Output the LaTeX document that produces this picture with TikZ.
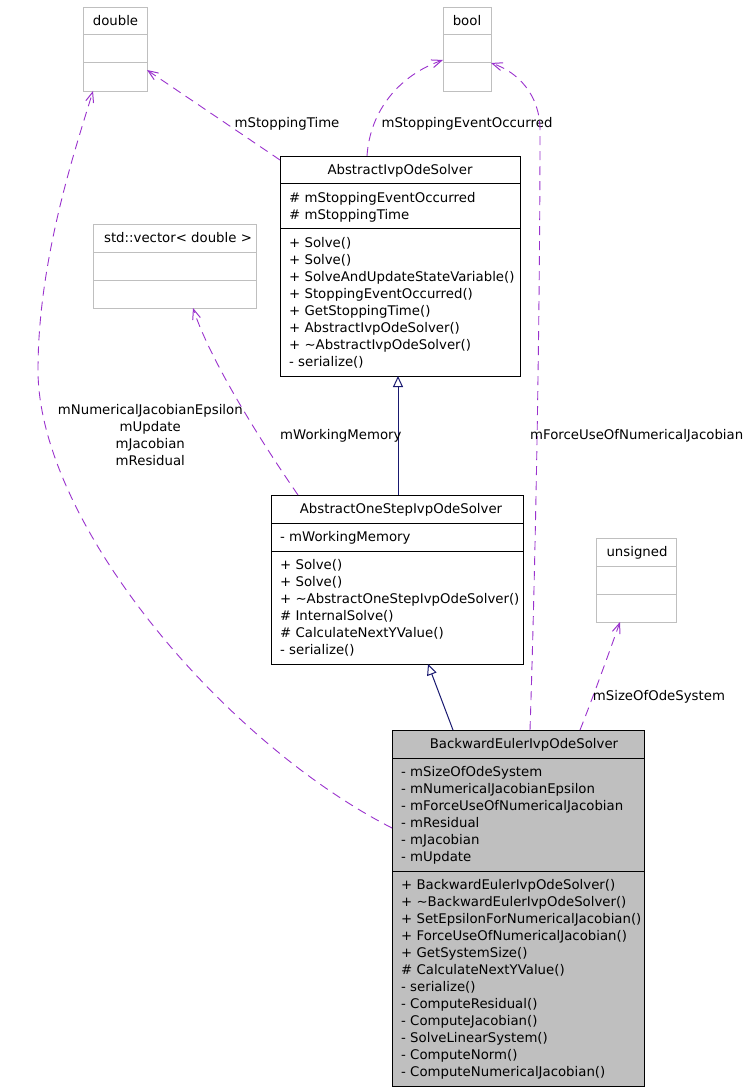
\documentclass[tikz,border=0pt]{standalone}
\usepackage{fontspec}
\setmainfont{DejaVu Sans}
\usetikzlibrary{arrows.meta}
\definecolor{edgepurple}{HTML}{9A32CD}
\definecolor{inhblue}{HTML}{191970}
\definecolor{boxgray}{HTML}{BFBFBF}
\tikzset{
  lbl/.style={font=\fontsize{13.3}{17}\selectfont, inner sep=0pt, text=black},
  ln/.style={lbl, anchor=base west},
  ttl/.style={lbl, anchor=base},
  cls/.style={draw=black, line width=1pt, anchor=north west, inner sep=0pt, fill=white},
  ext/.style={draw=boxgray, line width=1pt, anchor=north west, inner sep=0pt, fill=white},
  divline/.style={line width=1pt},
  assoc/.style={draw=edgepurple, line width=0.9pt, dash pattern=on 9pt off 6pt,
    -{Straight Barb[length=10pt,width=8pt,line width=1pt]}},
  inh/.style={draw=inhblue, line width=1pt,
    -{Triangle[open,length=11pt,width=10pt,fill=white]}},
}
\newcommand\cltext[4]{%
  \foreach \t [count=\i from 0] in {#4} {\node[ln] (#1-\i) at (#2,{#3+17*\i}) {\t};}}
\begin{document}
\begin{tikzpicture}[x=1pt,y=-1pt]
\useasboundingbox (0,0) rectangle (745,1091);

% ---------- double ----------
\node[ext, minimum width=64pt, minimum height=84pt] (dbl) at (83,7) {};
\draw[divline, boxgray] (83,35) -- (147,35) (83,63) -- (147,63);
\node[ttl] (dbl-t) at (115.5,25.7) {double};

% ---------- bool ----------
\node[ext, minimum width=48pt, minimum height=84pt] (bool) at (443,7) {};
\draw[divline, boxgray] (443,35) -- (491,35) (443,63) -- (491,63);
\node[ttl] (bool-t) at (467,25.7) {bool};

% ---------- std::vector ----------
\node[ext, minimum width=163pt, minimum height=84pt] (vec) at (93,224) {};
\draw[divline, boxgray] (93,252) -- (256,252) (93,280) -- (256,280);
\node[ttl] (vec-t) at (178,242.7) {std::vector< double >};

% ---------- unsigned ----------
\node[ext, minimum width=80pt, minimum height=84pt] (uns) at (596,538) {};
\draw[divline, boxgray] (596,566) -- (676,566) (596,594) -- (676,594);
\node[ttl] (uns-t) at (637,556.7) {unsigned};

% ---------- AbstractIvpOdeSolver ----------
\node[cls, minimum width=240pt, minimum height=220pt] (aivp) at (280,156) {};
\draw[divline] (280,184) -- (520,184) (280,229) -- (520,229);
\node[ttl] (aivp-t) at (400,174.7) {AbstractIvpOdeSolver};
\cltext{aivpa}{289}{202.7}{\# mStoppingEventOccurred,\# mStoppingTime}
\cltext{aivpm}{289}{247.7}{+ Solve(),+ Solve(),+ SolveAndUpdateStateVariable(),+ StoppingEventOccurred(),+ GetStoppingTime(),+ AbstractIvpOdeSolver(),+ \textasciitilde AbstractIvpOdeSolver(),- serialize()}

% ---------- AbstractOneStepIvpOdeSolver ----------
\node[cls, minimum width=252pt, minimum height=169pt] (aos) at (271,495) {};
\draw[divline] (271,523) -- (523,523) (271,551) -- (523,551);
\node[ttl] (aos-t) at (401,513.7) {AbstractOneStepIvpOdeSolver};
\cltext{aosa}{280}{541.7}{- mWorkingMemory}
\cltext{aosm}{280}{569.7}{+ Solve(),+ Solve(),+ \textasciitilde AbstractOneStepIvpOdeSolver(),\# InternalSolve(),\# CalculateNextYValue(),- serialize()}

% ---------- BackwardEulerIvpOdeSolver ----------
\node[cls, fill=boxgray, minimum width=252pt, minimum height=356pt] (be) at (392,730) {};
\draw[divline] (392,758) -- (644,758) (392,871) -- (644,871);
\node[ttl] (be-t) at (524,748.7) {BackwardEulerIvpOdeSolver};
\cltext{bea}{401}{776.7}{- mSizeOfOdeSystem,- mNumericalJacobianEpsilon,- mForceUseOfNumericalJacobian,- mResidual,- mJacobian,- mUpdate}
\cltext{bem}{401}{889.7}{+ BackwardEulerIvpOdeSolver(),+ \textasciitilde BackwardEulerIvpOdeSolver(),+ SetEpsilonForNumericalJacobian(),+ ForceUseOfNumericalJacobian(),+ GetSystemSize(),\# CalculateNextYValue(),- serialize(),- ComputeResidual(),- ComputeJacobian(),- SolveLinearSystem(),- ComputeNorm(),- ComputeNumericalJacobian()}

% ---------- connector end points ----------
\coordinate (dbl-r) at (147,70);
\coordinate (dbl-b) at (93,91);
\coordinate (bool-l) at (443,60);
\coordinate (bool-r) at (491,63);
\coordinate (vec-b) at (193,308);
\coordinate (uns-b) at (620,622);
\coordinate (aivp-l) at (280,160);
\coordinate (aivp-tp) at (367,156);
\coordinate (aivp-b) at (398,376);
\coordinate (aos-tl) at (298,495);
\coordinate (aos-tm) at (398,495);
\coordinate (aos-b) at (428,664);
\coordinate (be-tl) at (453,730);
\coordinate (be-tm) at (530,730);
\coordinate (be-tr) at (580,730);
\coordinate (be-l) at (392,828);

% ---------- inheritance ----------
\draw[inh] (aos-tm) -- (aivp-b);
\draw[inh] (be-tl) -- (aos-b);

% ---------- associations ----------
\draw[assoc] (aivp-l) -- (dbl-r);
\node[ttl] (l-stime) at (287,127.7) {mStoppingTime};

\draw[assoc] (aivp-tp) .. controls (370,110) and (400,75) .. (bool-l);
\node[ttl] (l-sevt) at (467,127.7) {mStoppingEventOccurred};

\draw[assoc] (be-tm) .. controls (536,550) and (540,300) .. (540,130)
  .. controls (540,95) and (518,72) .. (bool-r);
\node[ln] (l-force) at (530,439) {mForceUseOfNumericalJacobian};

\draw[assoc] (be-l) .. controls (220,740) and (38,520) .. (38,370)
  .. controls (38,260) and (75,150) .. (dbl-b);
\node[ttl] (l-num1) at (150.3,414) {mNumericalJacobianEpsilon};
\node[ttl] (l-num2) at (150.3,431) {mUpdate};
\node[ttl] (l-num3) at (150.3,448) {mJacobian};
\node[ttl] (l-num4) at (150.3,465) {mResidual};

\draw[assoc] (aos-tl) .. controls (260,440) and (210,360) .. (vec-b);
\node[ln] (l-work) at (280,439) {mWorkingMemory};

\draw[assoc] (be-tr) .. controls (592,700) and (610,650) .. (uns-b);
\node[ln] (l-size) at (592.7,700.5) {mSizeOfOdeSystem};
\end{tikzpicture}
\end{document}
